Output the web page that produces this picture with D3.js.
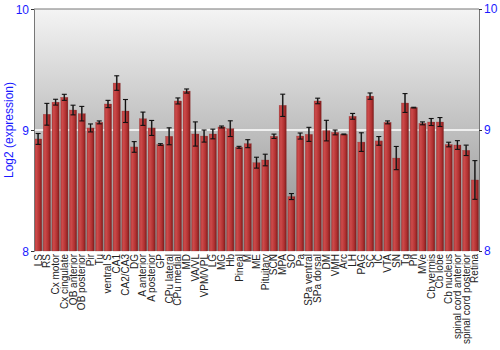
<!DOCTYPE html>
<html><head><meta charset="utf-8">
<script src="https://cdn.jsdelivr.net/npm/d3@7"></script>
<style>body{margin:0;background:#fff}svg{display:block}</style>
</head><body><svg id="c" width="500" height="350"></svg>
<script>
const categories = ["LS","RS","Cx motor","Cx cingulate","OB anterior","OB posterior","Pir","Tu","ventral S","CA1","CA2/CA3","DG","A anterior","A posterior","GP","CPu lateral","CPu medial","MD","VA/VL","VPM/VPL","LG","MG","Hb","Pineal","M","ME","Pituitary","SCN","MPA","SO","Pa","SPa ventral","SPa dorsal","DM","VMH","Arc","LH","PAG","SC","IC","VTA","SN","Tg","Pn","MVe","Cb vermis","Cb lobe","Cb nucleus","spinal cord anterior","spinal cord posterior","Retina"];
const values = [8.926,9.13,9.23,9.27,9.165,9.135,9.017,9.063,9.215,9.388,9.157,8.86,9.093,9.017,8.88,8.948,9.24,9.322,8.967,8.95,8.967,9.025,9.011,8.857,8.887,8.73,8.752,8.948,9.204,8.45,8.95,8.964,9.24,8.995,8.98,8.964,9.113,8.9,9.28,8.91,9.063,8.768,9.223,9.185,9.055,9.066,9.066,8.88,8.876,8.832,8.587];
const errors = [0.045,0.09,0.024,0.025,0.04,0.06,0.033,0.012,0.03,0.06,0.095,0.044,0.055,0.062,0.007,0.07,0.025,0.017,0.1,0.05,0.04,0.008,0.065,0.008,0.033,0.045,0.048,0.018,0.092,0.025,0.025,0.058,0.023,0.085,0.02,0.003,0.024,0.077,0.026,0.036,0.012,0.096,0.078,0.003,0.012,0.029,0.037,0.019,0.036,0.043,0.16];
const yTicks = [8,9,10];
const yTitle = "Log2 (expression)";

const svg = d3.select("#c");
const L=34, R=479, T=9, B=251;
const x = d3.scaleBand().domain(categories).range([L,R]).paddingInner(0.18).paddingOuter(0.06);
const y = d3.scaleLinear().domain([8,10]).range([B,T]);

const defs = svg.append("defs");
const bg = defs.append("linearGradient").attr("id","bg").attr("x1",0).attr("y1",0).attr("x2",0).attr("y2",1);
bg.append("stop").attr("offset","0%").attr("stop-color","#f4f4f4");
bg.append("stop").attr("offset","100%").attr("stop-color","#8a8a8a");
const bar = defs.append("linearGradient").attr("id","bar").attr("x1",0).attr("y1",0).attr("x2",1).attr("y2",0);
bar.append("stop").attr("offset","0%").attr("stop-color","#b83a3a");
bar.append("stop").attr("offset","25%").attr("stop-color","#cc4a4a");
bar.append("stop").attr("offset","70%").attr("stop-color","#b03030");
bar.append("stop").attr("offset","100%").attr("stop-color","#7e1c1c");

svg.append("rect").attr("x",L).attr("y",T).attr("width",R-L).attr("height",B-T).attr("fill","url(#bg)");
// grid line at 9
svg.append("line").attr("x1",L).attr("x2",R).attr("y1",y(9)).attr("y2",y(9)).attr("stroke","#ffffff").attr("stroke-width",1.5);

svg.append("g").selectAll("rect").data(categories).join("rect")
  .attr("x",d=>x(d)).attr("width",x.bandwidth())
  .attr("y",(d,i)=>y(values[i])).attr("height",(d,i)=>B-y(values[i]))
  .attr("fill","url(#bar)").attr("stroke","#8a2a2a").attr("stroke-width",0.4).attr("stroke-opacity",0.6);

const eg = svg.append("g").attr("stroke","#111").attr("stroke-width",1.1);
categories.forEach((c,i)=>{
  const cx = x(c)+x.bandwidth()/2;
  const y1=y(values[i]+errors[i]), y2=y(values[i]-errors[i]);
  eg.append("line").attr("x1",cx).attr("x2",cx).attr("y1",y1).attr("y2",y2).attr("stroke","#444").attr("stroke-width",1.6).attr("stroke-opacity",0.7);
  eg.append("line").attr("x1",cx).attr("x2",cx).attr("y1",y1).attr("y2",y2);
  eg.append("line").attr("x1",cx-2.5).attr("x2",cx+2.5).attr("y1",y1).attr("y2",y1);
  eg.append("line").attr("x1",cx-2.5).attr("x2",cx+2.5).attr("y1",y2).attr("y2",y2);
});

// borders
svg.append("line").attr("x1",L).attr("x2",R).attr("y1",T).attr("y2",T).attr("stroke","#777");
const font = "Liberation Sans, Arial, sans-serif";
const la = svg.append("g").attr("transform",`translate(${L},0)`).call(d3.axisLeft(y).tickValues(yTicks).tickFormat(d3.format("d")).tickSize(3).tickPadding(2));
const ra = svg.append("g").attr("transform",`translate(${R},0)`).call(d3.axisRight(y).tickValues(yTicks).tickFormat(d3.format("d")).tickSize(3).tickPadding(2));
[la,ra].forEach(a=>{
  a.select(".domain").attr("stroke","#777");
  a.selectAll(".tick line").attr("stroke","#333");
  a.selectAll("text").attr("fill","#1a1aff").attr("font-family",font).attr("font-size",12);
});
la.selectAll(".tick text").attr("dy","0.35em");

svg.append("text").attr("transform",`translate(13,${(T+B)/2}) rotate(-90)`).attr("text-anchor","middle")
  .attr("fill","#1a1aff").attr("font-family",font).attr("font-size",12).text(yTitle);

svg.append("g").selectAll("text").data(categories).join("text")
  .attr("transform",d=>`translate(${x(d)+x.bandwidth()/2+3.5},${B+3}) rotate(-90)`)
  .attr("text-anchor","end").attr("font-family",font).attr("font-size",10).attr("fill","#222").text(d=>d);
</script></body></html>
